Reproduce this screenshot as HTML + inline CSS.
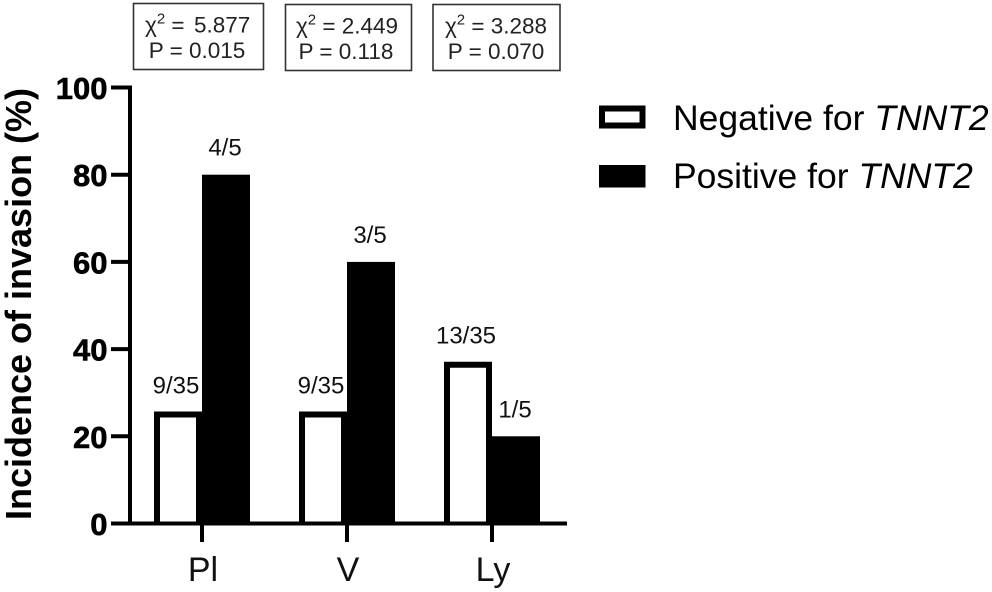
<!DOCTYPE html>
<html lang="en">
<head>
<meta charset="utf-8">
<title>Incidence of invasion by TNNT2 status</title>
<style>
html,body{margin:0;padding:0;background:#fff;}
body{width:992px;height:592px;overflow:hidden;}
svg{display:block;font-family:"Liberation Sans",Arial,sans-serif;}
</style>
</head>
<body>
<svg id="chart" width="992" height="592" viewBox="0 0 992 592" xmlns="http://www.w3.org/2000/svg">
  <rect width="992" height="592" fill="#fff"/>
  <g>
    <rect x="133.5" y="3.5" width="130" height="66" fill="#fff" stroke="#333" stroke-width="1.6"/>
    <text x="145" y="32.5" font-size="22.5" fill="#222">χ<tspan font-size="15" dy="-9">2</tspan><tspan dy="9"> = </tspan><tspan x="194">5.877</tspan></text>
    <text x="197" y="58" font-size="22.5" fill="#222" text-anchor="middle">P = 0.015</text>
  </g>
  <g>
    <rect x="285.5" y="4.5" width="126" height="66" fill="#fff" stroke="#333" stroke-width="1.6"/>
    <text x="347" y="33.5" font-size="22.5" fill="#222" text-anchor="middle">χ<tspan font-size="15" dy="-9">2</tspan><tspan dy="9"> = 2.449</tspan></text>
    <text x="346" y="59" font-size="22.5" fill="#222" text-anchor="middle">P = 0.118</text>
  </g>
  <g>
    <rect x="433" y="4.5" width="127" height="66" fill="#fff" stroke="#333" stroke-width="1.6"/>
    <text x="496" y="33.5" font-size="22.5" fill="#222" text-anchor="middle">χ<tspan font-size="15" dy="-9">2</tspan><tspan dy="9"> = 3.288</tspan></text>
    <text x="496" y="59" font-size="22.5" fill="#222" text-anchor="middle">P = 0.070</text>
  </g>
  <g id="plot"></g>
  <text transform="translate(31,304) rotate(-90)" font-size="36" font-weight="bold" fill="#000" text-anchor="middle">Incidence of invasion (%)</text>
  <g>
    <g>
      <rect x="602" y="108.5" width="40.5" height="17" fill="#fff" stroke="#000" stroke-width="6"/>
      <text x="673" y="130" font-size="35.5" fill="#000">Negative for <tspan font-style="italic">TNNT2</tspan></text>
    </g>
    <g>
      <rect x="599" y="165" width="46.5" height="22.5" fill="#000"/>
      <text x="673" y="188" font-size="35.5" fill="#000">Positive for <tspan font-style="italic">TNNT2</tspan></text>
    </g>
  </g>
</svg>
<script>
const categories = ['Pl', 'V', 'Ly'];
const negativeValues = [25.7, 25.7, 37.1];
const positiveValues = [80, 60, 20];
const negativeLabels = ['9/35', '9/35', '13/35'];
const positiveLabels = ['4/5', '3/5', '1/5'];
const yTicks = [0, 20, 40, 60, 80, 100];

const SVG_NS = 'http://www.w3.org/2000/svg';
const plot = document.getElementById('plot');
const y0 = 523.5, yTop = 87.5, yMax = 100;
const xFirst = 202, xStep = 145, barW = 48, strokeW = 6;
function yScale(v) { return y0 - (v / yMax) * (y0 - yTop); }
function xScale(i) { return xFirst + i * xStep; }
function make(tag, attrs, text) {
  const el = document.createElementNS(SVG_NS, tag);
  Object.keys(attrs).forEach(function (k) { el.setAttribute(k, attrs[k]); });
  if (text !== undefined) el.textContent = text;
  plot.appendChild(el);
  return el;
}

categories.forEach(function (cat, i) {
  const cx = xScale(i);
  const negTop = yScale(negativeValues[i]);
  const posTop = yScale(positiveValues[i]);
  const inset = strokeW / 2;
  const negPath = 'M' + (cx - barW + inset) + ' ' + y0 +
    'V' + (negTop + inset) + 'H' + (cx - inset) + 'V' + y0;

  const neg = make('path', {d: negPath, fill: '#fff', stroke: '#000', 'stroke-width': strokeW});
  
  

  const pos = make('rect', {x: cx, y: posTop, width: barW, height: y0 - posTop, fill: '#000'});
  
  

  const negLabel = make('text', {x: cx - barW / 2 - 2, y: negTop - 18, 'font-size': 24, fill: '#111', 'text-anchor': 'middle'}, negativeLabels[i]);
  
  

  const posLabel = make('text', {x: cx + barW / 2 - 1, y: posTop - 19, 'font-size': 24, fill: '#111', 'text-anchor': 'middle'}, positiveLabels[i]);
  
  

  const tick = make('line', {x1: cx, x2: cx, y1: y0, y2: 542, stroke: '#000', 'stroke-width': 4});
  
  

  const catLabel = make('text', {x: cx + 1, y: 581, 'font-size': 34, fill: '#111', 'text-anchor': 'middle'}, cat);
  
  
});

yTicks.forEach(function (t) {
  const y = yScale(t);
  const tick = make('line', {x1: 111, x2: 130, y1: y, y2: y, stroke: '#000', 'stroke-width': 4});
  
  

  const label = make('text', {x: 107.5, y: y + 11.5, 'font-size': 31, 'font-weight': 'bold', fill: '#000', stroke: '#000', 'stroke-width': 0.6, 'text-anchor': 'end'}, String(t));
  
  
});

const yAxis = make('line', {x1: 130, x2: 130, y1: yTop - 2, y2: y0 + 2, stroke: '#000', 'stroke-width': 4});



const xAxis = make('line', {x1: 111, x2: 567, y1: y0, y2: y0, stroke: '#000', 'stroke-width': 4});


</script>
</body>
</html>
